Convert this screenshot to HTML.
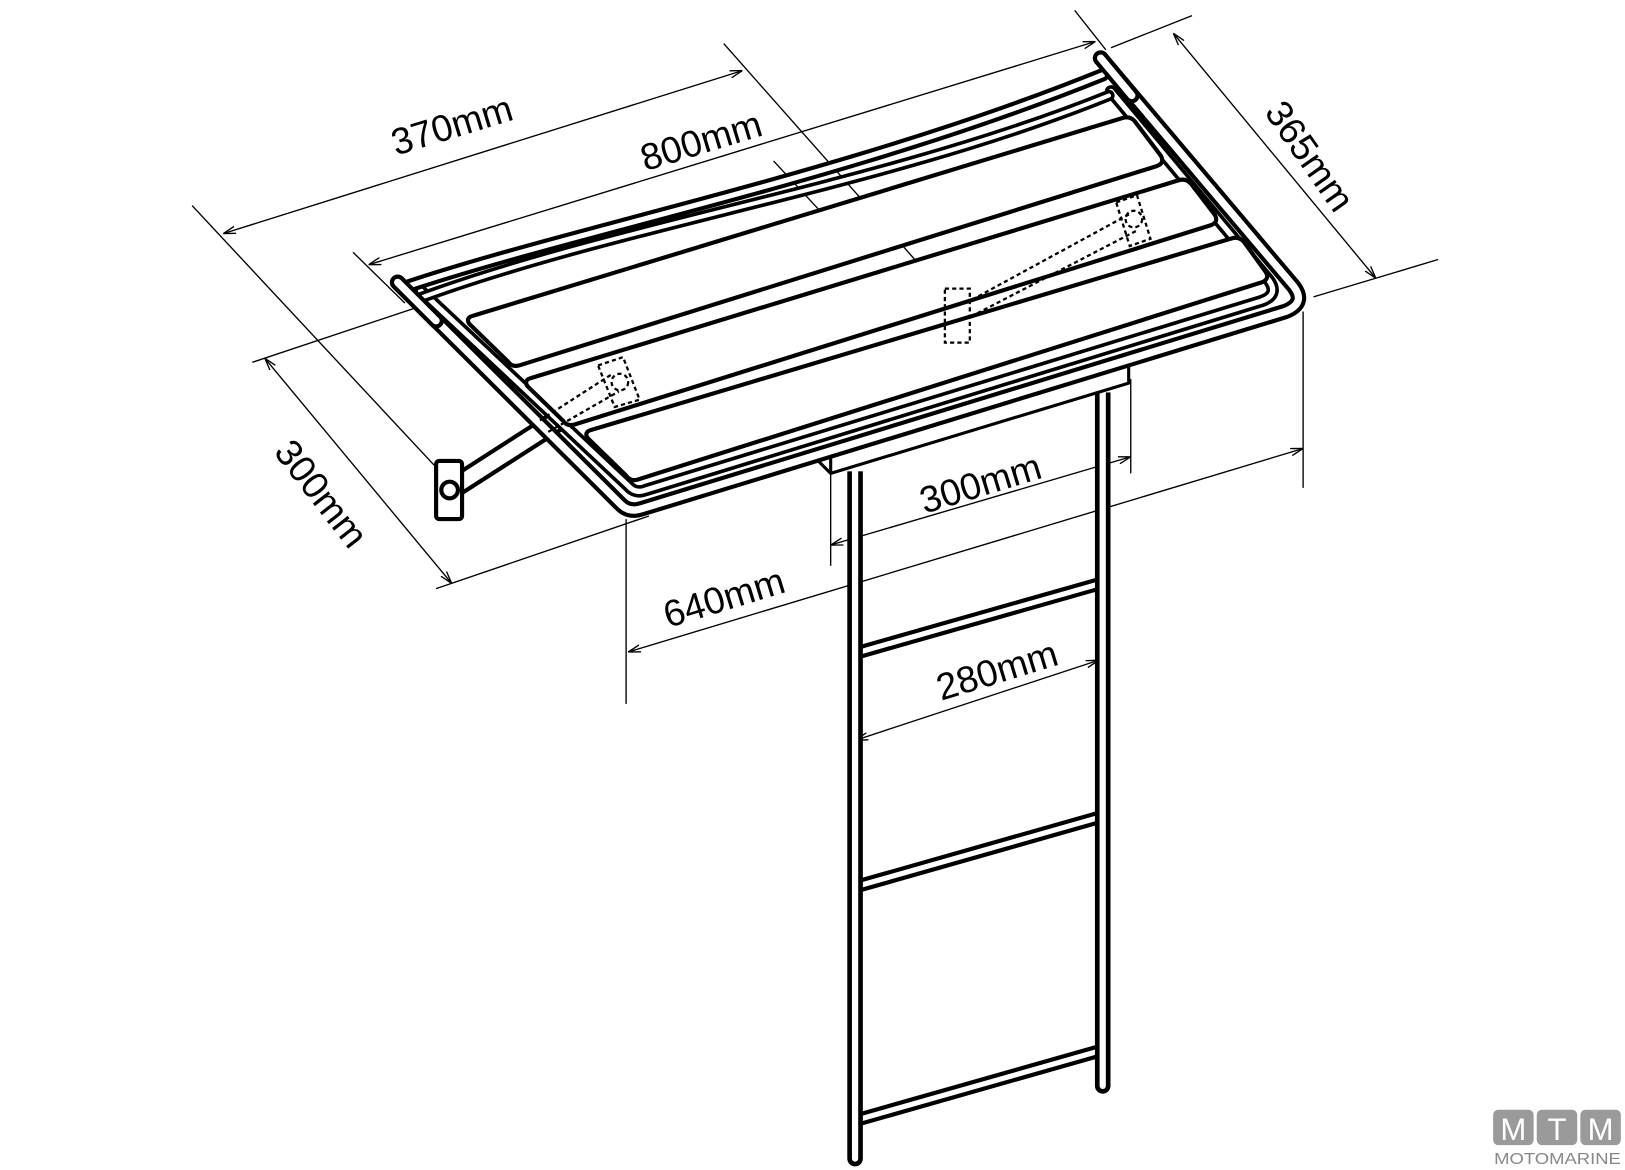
<!DOCTYPE html>
<html><head><meta charset="utf-8"><style>
html,body{margin:0;padding:0;background:#fff;}
svg{display:block;}
text{font-family:"Liberation Sans","DejaVu Sans",sans-serif;}
</style></head><body>
<svg width="1625" height="1170" viewBox="0 0 1565 1127" preserveAspectRatio="none" xmlns="http://www.w3.org/2000/svg">
<defs>
<marker id="ar" viewBox="0 0 12 8" refX="12" refY="4" markerWidth="12" markerHeight="8" markerUnits="userSpaceOnUse" orient="auto-start-reverse">
<path d="M0,0.5 L12,4 L0,7.5" fill="none" stroke="#000" stroke-width="1.3"/>
</marker>
</defs>
<rect width="1565" height="1127" fill="#fff"/>

<!-- dimension lines -->
<g stroke="#000" stroke-width="1.3" fill="none">
<line x1="215" y1="225" x2="715" y2="68" marker-start="url(#ar)" marker-end="url(#ar)"/>
<line x1="185" y1="198" x2="418" y2="448"/>
<line x1="697" y1="42" x2="912" y2="285"/>
<line x1="355" y1="255" x2="1055" y2="40" marker-start="url(#ar)" marker-end="url(#ar)"/>
<line x1="340" y1="243" x2="390" y2="292"/>
<line x1="1035" y1="10" x2="1065" y2="48"/>
<line x1="745" y1="155" x2="810" y2="225"/>
<line x1="255" y1="345" x2="435" y2="562" marker-start="url(#ar)" marker-end="url(#ar)"/>
<line x1="243" y1="349" x2="420" y2="290"/>
<line x1="420" y1="567" x2="625" y2="497"/>
<line x1="1130" y1="32" x2="1325" y2="268" marker-start="url(#ar)" marker-end="url(#ar)"/>
<line x1="1070" y1="46" x2="1148" y2="15"/>
<line x1="1265" y1="286" x2="1385" y2="250"/>
<line x1="605" y1="628" x2="1255" y2="432" marker-start="url(#ar)" marker-end="url(#ar)"/>
<line x1="603" y1="500" x2="603" y2="678"/>
<line x1="1255" y1="300" x2="1255" y2="470"/>
<line x1="800" y1="525" x2="1089" y2="440" marker-start="url(#ar)" marker-end="url(#ar)"/>
<line x1="800" y1="445" x2="800" y2="545"/>
<line x1="1089" y1="365" x2="1089" y2="456"/>
<line x1="824" y1="713" x2="1058" y2="636" marker-start="url(#ar)" marker-end="url(#ar)"/>
</g>

<!-- ladder rungs -->
<g stroke-linecap="butt" fill="none">
<g stroke="#000" stroke-width="13">
<line x1="828" y1="628" x2="1060" y2="562"/>
<line x1="828" y1="853" x2="1060" y2="787"/>
<line x1="828" y1="1078" x2="1060" y2="1012"/>
</g>
<g stroke="#fff" stroke-width="5">
<line x1="828" y1="628" x2="1060" y2="562"/>
<line x1="828" y1="853" x2="1060" y2="787"/>
<line x1="828" y1="1078" x2="1060" y2="1012"/>
</g>
</g>
<!-- rails -->
<g fill="none" stroke-linecap="round">
<line x1="823.5" y1="452" x2="823.5" y2="1116" stroke="#000" stroke-width="15"/>
<line x1="823.5" y1="452" x2="823.5" y2="1116" stroke="#fff" stroke-width="6"/>
<line x1="1062" y1="376" x2="1062" y2="1046" stroke="#000" stroke-width="15"/>
<line x1="1062" y1="376" x2="1062" y2="1046" stroke="#fff" stroke-width="6"/>
</g>
<rect x="810" y="440" width="30" height="14" fill="#fff"/>
<rect x="1050" y="360" width="25" height="18" fill="#fff"/>

<!-- block under platform -->
<polygon points="785,441 1087,349 1087,369 800,456" fill="#fff" stroke="#000" stroke-width="3" stroke-linejoin="round"/>
<line x1="800" y1="441" x2="800" y2="456" stroke="#000" stroke-width="3"/>

<!-- arm and bracket -->
<g fill="none" stroke-linecap="round">
<line x1="436" y1="470" x2="545" y2="400" stroke="#000" stroke-width="22"/>
<line x1="436" y1="470" x2="545" y2="400" stroke="#fff" stroke-width="14"/>
</g>
<rect x="420" y="444" width="25" height="56" rx="3" fill="#fff" stroke="#000" stroke-width="4"/>
<circle cx="433" cy="472" r="8" fill="#fff" stroke="#000" stroke-width="4"/>

<!-- platform frame outer tube -->
<g fill="none" stroke-linejoin="round" stroke-linecap="round">
<path d="M383,272 L598,486 Q606,494 618,490 L1238,300 Q1258,292 1246,276 L1060,56" stroke="#000" stroke-width="15"/>
<path d="M383,272 L598,486 Q606,494 618,490 L1238,300 Q1258,292 1246,276 L1060,56" stroke="#fff" stroke-width="7"/>
<!-- inner frame tube -->
<path d="M405,280 L605,468 Q612,476 622,472 L1215,290 Q1232,284 1222,270 L1070,88" stroke="#000" stroke-width="12"/>
<path d="M405,280 L605,468 Q612,476 622,472 L1215,290 Q1232,284 1222,270 L1070,88" stroke="#fff" stroke-width="5"/>
<!-- back curved tubes -->
<path d="M392,276 C560,220 820,170 1062,72" stroke="#000" stroke-width="13"/>
<path d="M392,276 C560,220 820,170 1062,72" stroke="#fff" stroke-width="5"/>
<path d="M402,288 C600,215 850,180 1068,92" stroke="#000" stroke-width="11"/>
<path d="M402,288 C600,215 850,180 1068,92" stroke="#fff" stroke-width="4"/>
</g>
<!-- redraw tips -->
<g fill="none" stroke-linecap="round">
<line x1="383" y1="272" x2="420" y2="309" stroke="#000" stroke-width="15"/>
<line x1="383" y1="272" x2="420" y2="309" stroke="#fff" stroke-width="7"/>
<line x1="1060" y1="56" x2="1090" y2="92" stroke="#000" stroke-width="15"/>
<line x1="1060" y1="56" x2="1090" y2="92" stroke="#fff" stroke-width="7"/>
</g>

<!-- slats -->
<g fill="#fff" stroke="#000" stroke-width="4" stroke-linejoin="round">
<path d="M456,304 L1080,114 Q1088,111 1093,117 L1118,150 Q1122,157 1114,160 L500,352 Q493,354 489,348 L452,312 Q448,306 456,304 Z"/>
<path d="M512,364 L1134,174 Q1142,171 1147,177 L1170,207 Q1174,214 1166,217 L553,409 Q546,411 542,405 L508,372 Q504,366 512,364 Z"/>
<path d="M570,414 L1185,230 Q1193,227 1198,233 L1219,262 Q1223,269 1215,272 L614,462 Q607,464 603,458 L566,422 Q562,416 570,414 Z"/>
</g>

<!-- dashed hinges -->
<g fill="none" stroke="#000" stroke-width="2.2" stroke-dasharray="4,3">
<polygon points="576,352 600,344 616,385 592,392"/>
<circle cx="597" cy="368" r="8"/>
<line x1="520" y1="405" x2="590" y2="360"/>
<line x1="528" y1="416" x2="596" y2="377"/>
<rect x="910" y="278" width="24" height="52"/>
<line x1="930" y1="292" x2="1090" y2="205"/>
<line x1="935" y1="305" x2="1095" y2="222"/>
<polygon points="1075,195 1095,188 1108,230 1088,237"/>
<circle cx="1092" cy="211" r="8"/>
</g>

<!-- dimension labels -->
<g font-size="36" fill="#000">
<text x="435" y="133" text-anchor="middle" transform="rotate(-17 435 120)">370mm</text>
<text x="675" y="148" text-anchor="middle" transform="rotate(-17 675 135)">800mm</text>
<text x="310" y="488" text-anchor="middle" transform="rotate(52 310 475)">300mm</text>
<text x="1262" y="163" text-anchor="middle" transform="rotate(55 1262 150)">365mm</text>
<text x="944" y="478" text-anchor="middle" transform="rotate(-17 944 465)">300mm</text>
<text x="697" y="588" text-anchor="middle" transform="rotate(-17 697 575)">640mm</text>
<text x="960" y="658" text-anchor="middle" transform="rotate(-17 960 645)">280mm</text>
</g>

<!-- logo -->
<g>
<rect x="1438" y="1069" width="39" height="34" rx="5" fill="#9a9a9a"/>
<rect x="1480" y="1069" width="39" height="34" rx="5" fill="#9a9a9a"/>
<rect x="1522" y="1069" width="39" height="34" rx="5" fill="#9a9a9a"/>
<g fill="#fff" font-size="30" text-anchor="middle">
<text x="1457.5" y="1098">M</text>
<text x="1499.5" y="1098">T</text>
<text x="1541.5" y="1098">M</text>
</g>
<text x="1500" y="1121" font-size="15" fill="#888" text-anchor="middle" textLength="122" lengthAdjust="spacingAndGlyphs">MOTOMARINE</text>
</g>
</svg>
</body></html>
